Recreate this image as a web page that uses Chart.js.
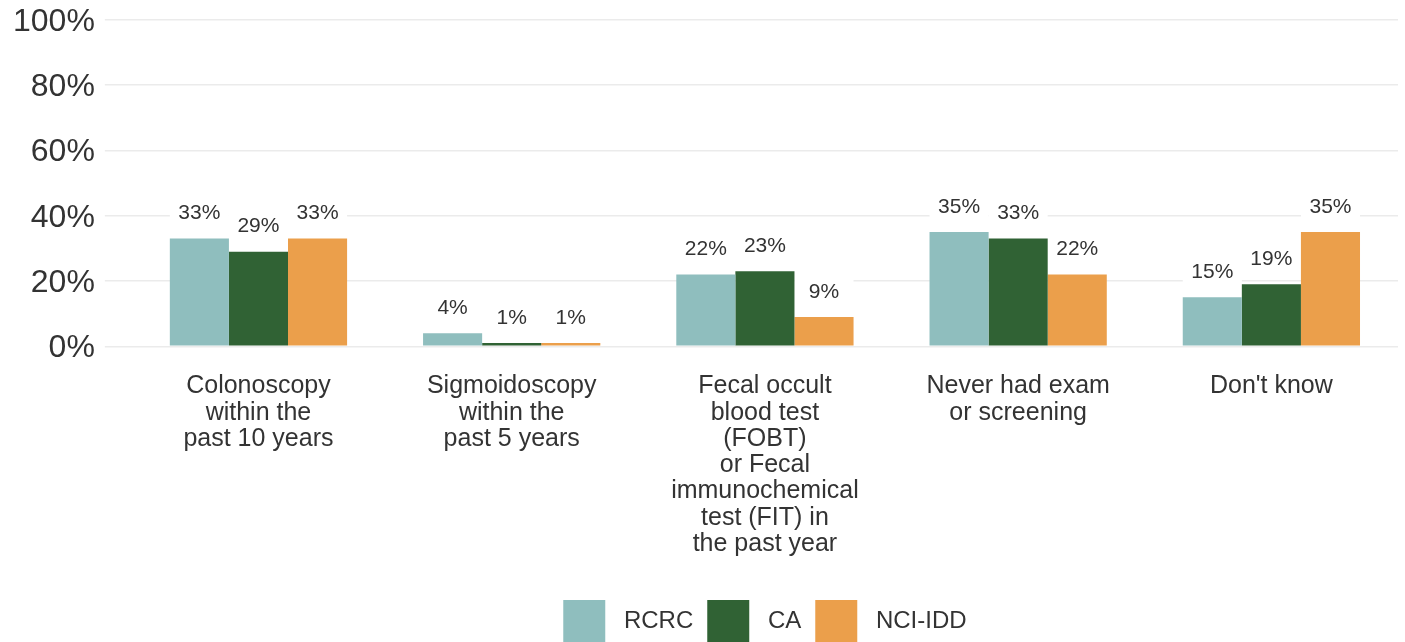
<!DOCTYPE html>
<html>
<head>
<meta charset="utf-8">
<title>Colorectal cancer screening</title>
<script src="https://cdn.jsdelivr.net/npm/chart.js@4/dist/chart.umd.min.js"></script>
<style>
  html, body { margin: 0; padding: 0; background: #fff; overflow: hidden; }
  #wrap { position: relative; width: 1405px; height: 652px; }
</style>
</head>
<body>
<div id="wrap"><canvas id="chart-screening"></canvas></div>
<script>
// Categorías (etiquetas en varias líneas)
const categories = [
    ['Colonoscopy', 'within the', 'past 10 years'],
    ['Sigmoidoscopy', 'within the', 'past 5 years'],
    ['Fecal occult', 'blood test', '(FOBT)', 'or Fecal', 'immunochemical', 'test (FIT) in', 'the past year'],
    ['Never had exam', 'or screening'],
    ["Don't know"]
];

const seriesNames = ['RCRC', 'CA', 'NCI-IDD'];
const rcrcValues = [33, 4, 22, 35, 15];
const caValues = [29, 1, 23, 33, 19];
const nciValues = [33, 1, 9, 22, 35];
const yTicks = [0, 20, 40, 60, 80, 100];

const FONT = '"Liberation Sans", Arial, sans-serif';
const TEXT_COLOR = '#333333';

// Etiquetas de valor sobre cada barra, con fondo blanco que tapa la grilla
const valueLabels = {
    id: 'valueLabels',
    beforeDatasetsDraw(chart) {
        const ctx = chart.ctx;
        ctx.save();
        ctx.fillStyle = '#ffffff';
        chart.data.datasets.forEach((ds, i) => {
            chart.getDatasetMeta(i).data.forEach(bar => {
                const y = bar.y - 25;
                ctx.fillRect(bar.x - bar.width / 2, y - 14, bar.width, 28);
            });
        });
        ctx.restore();
    },
    afterDatasetsDraw(chart) {
        const ctx = chart.ctx;
        ctx.save();
        ctx.font = '21px ' + FONT;
        ctx.fillStyle = TEXT_COLOR;
        ctx.textAlign = 'center';
        ctx.textBaseline = 'middle';
        chart.data.datasets.forEach((ds, i) => {
            chart.getDatasetMeta(i).data.forEach((bar, j) => {
                ctx.fillText(ds.data[j] + '%', bar.x, bar.y - 25);
            });
        });
        ctx.restore();
    }
};

new Chart(document.getElementById('chart-screening'), {
    type: 'bar',
    data: {
        labels: categories,
        datasets: [
            { label: seriesNames[0], data: rcrcValues, backgroundColor: '#8fbebe' },
            { label: seriesNames[1], data: caValues, backgroundColor: '#306234' },
            { label: seriesNames[2], data: nciValues, backgroundColor: '#eb9f4b' }
        ]
    },
    options: {
        responsive: true,
        maintainAspectRatio: false,
        animation: false,
        layout: {
            padding: { left: 3, right: 7, top: 20, bottom: 0 }
        },
        datasets: {
            bar: { categoryPercentage: 0.70, barPercentage: 1.0 }
        },
        plugins: {
            tooltip: { enabled: false },
            legend: {
                position: 'bottom',
                fullSize: false,
                labels: {
                    boxWidth: 42,
                    boxHeight: 42,
                    padding: 14,
                    color: TEXT_COLOR,
                    font: { family: FONT, size: 24 },
                    // un espacio extra entre el cuadro y el texto
                    generateLabels: chart => Chart.defaults.plugins.legend.labels.generateLabels(chart)
                        .map(item => Object.assign(item, { text: ' ' + item.text }))
                }
            }
        },
        scales: {
            x: {
                grid: { display: false },
                border: { display: false },
                ticks: {
                    color: TEXT_COLOR,
                    font: { family: FONT, size: 25, lineHeight: 1.05 },
                    padding: 19,
                    maxRotation: 0,
                    autoSkip: false
                },
                afterFit: axis => { axis.height += 10; }
            },
            y: {
                min: 0,
                max: 100,
                afterBuildTicks: axis => {
                    axis.ticks = yTicks.map(v => ({ value: v }));
                },
                // sin margen extra arriba por la etiqueta de 100%
                afterFit: axis => { axis.paddingTop = 0; },
                grid: {
                    color: '#ebebeb',
                    lineWidth: 1.5,
                    drawTicks: true,
                    tickLength: 27
                },
                border: { display: false },
                ticks: {
                    color: TEXT_COLOR,
                    font: { family: FONT, size: 32 },
                    padding: 10,
                    labelOffset: 2,
                    callback: v => v + '%'
                }
            }
        }
    },
    plugins: [valueLabels]
});
</script>
</body>
</html>
